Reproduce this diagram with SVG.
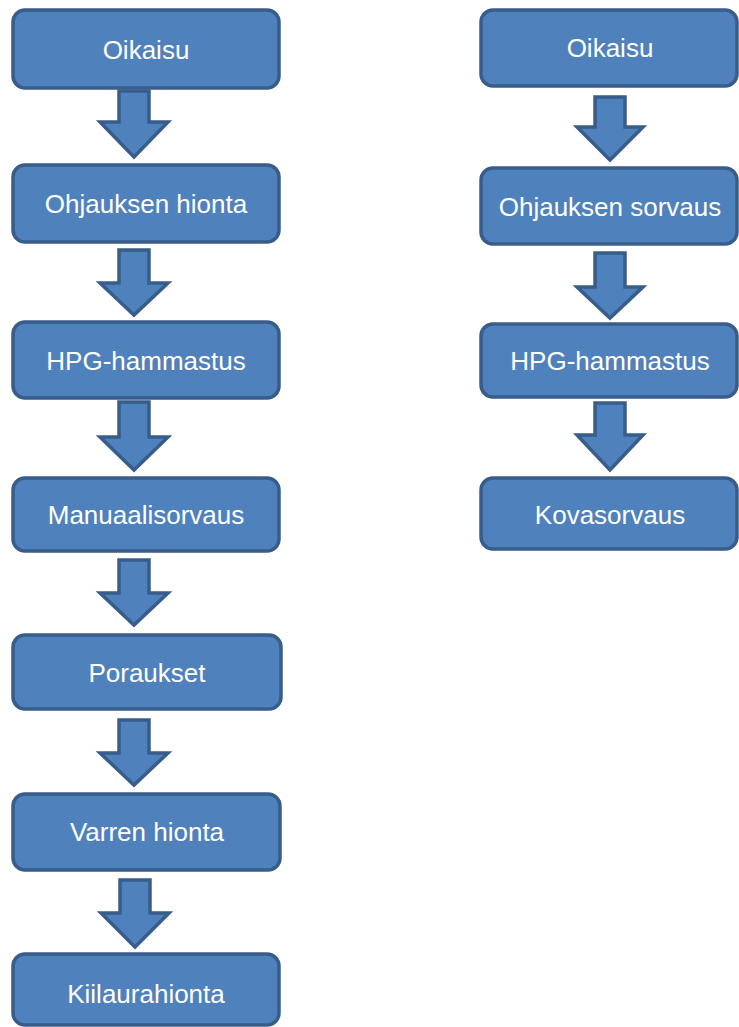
<svg xmlns="http://www.w3.org/2000/svg" width="739" height="1027" viewBox="0 0 739 1027">
<style>
.box{fill:#4F81BD;stroke:#385D8A;stroke-width:3.5}
.arr{fill:#4F81BD;stroke:#385D8A;stroke-width:3.5;stroke-linejoin:miter}
.lbl{fill:#FFFFFF;font-family:"Liberation Sans",Arial,sans-serif;font-size:26px;text-anchor:middle}
</style>
<rect width="739" height="1027" fill="#FFFFFF"/>
<g id="connectors">
<path class="arr" d="M119,91 H149 V122 H168 L134,157 L100,122 H119 Z"/>
<path class="arr" d="M119,250 H149 V283 H168 L134,315 L100,283 H119 Z"/>
<path class="arr" d="M119,402 H149 V437 H168 L134,470 L100,437 H119 Z"/>
<path class="arr" d="M119,560 H149 V593 H168 L134,625 L100,593 H119 Z"/>
<path class="arr" d="M119,720 H149 V753 H168 L134,785 L100,753 H119 Z"/>
<path class="arr" d="M120,880 H150 V913 H169 L135,947 L101,913 H120 Z"/>
<path class="arr" d="M595,97 H625 V127 H643 L610,160 L577,127 H595 Z"/>
<path class="arr" d="M595,253 H625 V287 H643 L610,318 L577,287 H595 Z"/>
<path class="arr" d="M595,403 H625 V435 H643 L610,470 L577,435 H595 Z"/>
</g>
<g id="l1"><rect class="box" x="13" y="10" width="266" height="78" rx="12"/><text class="lbl" x="146" y="59">Oikaisu</text></g>
<g id="l2"><rect class="box" x="13" y="165" width="266" height="77" rx="12"/><text class="lbl" x="146" y="213">Ohjauksen hionta</text></g>
<g id="l3"><rect class="box" x="13" y="322" width="266" height="76" rx="12"/><text class="lbl" x="146" y="370">HPG-hammastus</text></g>
<g id="l4"><rect class="box" x="13" y="478" width="266" height="73" rx="12"/><text class="lbl" x="146" y="524">Manuaalisorvaus</text></g>
<g id="l5"><rect class="box" x="13" y="635" width="268" height="74" rx="12"/><text class="lbl" x="147" y="682">Poraukset</text></g>
<g id="l6"><rect class="box" x="13" y="794" width="267" height="76" rx="12"/><text class="lbl" x="147" y="841">Varren hionta</text></g>
<g id="l7"><rect class="box" x="13" y="954" width="266" height="71" rx="12"/><text class="lbl" x="146" y="1003">Kiilaurahionta</text></g>
<g id="r1"><rect class="box" x="481" y="10" width="256" height="76" rx="12"/><text class="lbl" x="610" y="57">Oikaisu</text></g>
<g id="r2"><rect class="box" x="481" y="168" width="256" height="76" rx="12"/><text class="lbl" x="610" y="216">Ohjauksen sorvaus</text></g>
<g id="r3"><rect class="box" x="481" y="324" width="256" height="73" rx="12"/><text class="lbl" x="610" y="370">HPG-hammastus</text></g>
<g id="r4"><rect class="box" x="481" y="478" width="256" height="71" rx="12"/><text class="lbl" x="610" y="524">Kovasorvaus</text></g>
</svg>
